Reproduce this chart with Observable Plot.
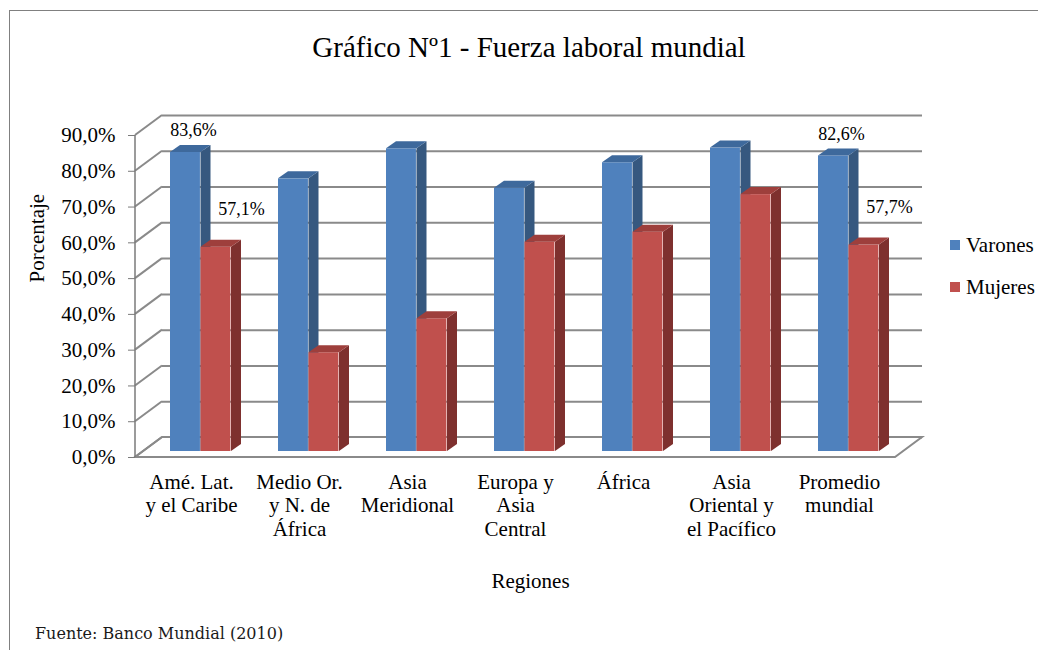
<!DOCTYPE html>
<html>
<head>
<meta charset="utf-8">
<script src="https://cdn.jsdelivr.net/npm/d3@7"></script>
<script src="https://cdn.jsdelivr.net/npm/@observablehq/plot@0.6"></script>
<style>
  body { margin: 0; background: #fff; }
  #page { position: relative; width: 1038px; height: 650px; overflow: hidden;
          font-family: "Liberation Serif", "Times New Roman", serif; color: #000; }
  #marco { position: absolute; left: 9px; top: 10px; width: 1200px; height: 800px;
           border-left: 1px solid #808080; border-top: 1px solid #808080; }
  #titulo { position: absolute; top: 29px; left: 20px; width: 1018px; text-align: center;
            font-size: 29px; line-height: 36px; }
  #chart { position: absolute; top: 95px; left: 0; }
  #leyenda { position: absolute; left: 950px; top: 232px; font-size: 21px; }
  #leyenda .item { display: flex; align-items: center; height: 26px; margin-bottom: 16px; }
  #leyenda .sw { width: 10px; height: 10px; margin-right: 6px; }
  #fuente { position: absolute; left: 35px; top: 624px; font-family: "DejaVu Serif", serif;
            font-size: 16px; color: #1a1a1a; }
</style>
</head>
<body>
<div id="page">
  <div id="marco"></div>
  <div id="titulo"></div>
  <div id="chart"></div>
  <div id="leyenda"></div>
  <div id="fuente"></div>
</div>
<script>
// ---- Data ----
const titulo = "Gráfico Nº1 - Fuerza laboral mundial";
const fuente = "Fuente: Banco Mundial (2010)";
const regiones = [
  "Amé. Lat.\ny el Caribe",
  "Medio Or.\ny N. de\nÁfrica",
  "Asia\nMeridional",
  "Europa y\nAsia\nCentral",
  "África",
  "Asia\nOriental y\nel Pacífico",
  "Promedio\nmundial"
];
const varones = [83.6, 76.2, 84.6, 73.6, 80.7, 84.8, 82.6];
const mujeres = [57.1, 27.6, 37.1, 58.5, 61.3, 71.8, 57.7];
const series = ["Varones", "Mujeres"];
const ticksY = [0, 10, 20, 30, 40, 50, 60, 70, 80, 90];
const regionesConEtiqueta = ["Amé. Lat.\ny el Caribe", "Promedio\nmundial"];
const tituloX = "Regiones";
const tituloY = "Porcentaje";

// ---- Styles ----
const colores = {
  Varones: {frente: "#4F81BD", lado: "#36587F", arriba: "#3E699C"},
  Mujeres: {frente: "#C0504D", lado: "#7E302E", arriba: "#9E3F3C"}
};
const W = 1038, H = 510;
const mL = 135, mR = 143, mT = 40, mB = 148;
const banda = (W - mL - mR) / regiones.length;
const PARED = {dx: 27, dy: -20};   // depth of the 3D box
const PLANO = {dx: 8, dy: -6};     // front plane of the bars
const GROSOR = {dx: 10, dy: -7};   // bar depth
const anchoBarra = 30.5;
const inicioBarra = {Varones: 25, Mujeres: 25 + anchoBarra};
const gris = "#8a8a8a";

const fmt = v => v.toFixed(1).replace(".", ",") + "%";

document.getElementById("titulo").textContent = titulo;
document.getElementById("fuente").textContent = fuente;
const ley = document.getElementById("leyenda");
for (const s of series) {
  const it = document.createElement("div"); it.className = "item";
  const sw = document.createElement("div"); sw.className = "sw"; sw.style.background = colores[s].frente;
  const t = document.createElement("span"); t.textContent = s;
  it.append(sw, t); ley.append(it);
}

const idx = d3.range(regiones.length);

// 3D box: left wall diagonals, axis line and floor
function caja(index, scales, values, dims) {
  const {y} = scales;
  const x0 = dims.marginLeft, x1 = dims.width - dims.marginRight;
  const g = d3.create("svg:g").attr("fill", "none").attr("stroke", gris).attr("stroke-width", 2);
  const y0 = y(0);
  g.append("path").attr("fill", "#fff")
    .attr("d", `M${x0},${y0}L${x1},${y0}L${x1 + PARED.dx},${y0 + PARED.dy}L${x0 + PARED.dx},${y0 + PARED.dy}Z`);
  for (const t of ticksY) {
    g.append("line").attr("x1", x0).attr("y1", y(t)).attr("x2", x0 + PARED.dx).attr("y2", y(t) + PARED.dy);
  }
  g.append("line").attr("x1", x0).attr("x2", x0).attr("y1", y(0)).attr("y2", y(d3.max(ticksY)))
    .attr("stroke", "#7a7a7a").attr("stroke-width", 1.5);
  return g.node();
}

// side and top faces of the bars
function caras(serie, valores) {
  return function (index, scales, values, dims) {
    const {x, y} = scales;
    const g = d3.create("svg:g");
    for (const i of idx) {
      const xl = x(regiones[i]) + inicioBarra[serie] + PLANO.dx;
      const xr = xl + anchoBarra;
      const yt = y(valores[i]) + PLANO.dy;
      const yb = y(0) + PLANO.dy;
      g.append("path").attr("fill", colores[serie].lado)
        .attr("d", `M${xr},${yb}L${xr},${yt}L${xr + GROSOR.dx},${yt + GROSOR.dy}L${xr + GROSOR.dx},${yb + GROSOR.dy}Z`);
      g.append("path").attr("fill", colores[serie].arriba)
        .attr("d", `M${xl},${yt}L${xr},${yt}L${xr + GROSOR.dx},${yt + GROSOR.dy}L${xl + GROSOR.dx},${yt + GROSOR.dy}Z`);
    }
    return g.node();
  };
}

function frentes(serie, valores) {
  return Plot.barY(idx, {
    x: i => regiones[i], y: i => valores[i],
    fill: colores[serie].frente,
    insetLeft: inicioBarra[serie],
    insetRight: banda - inicioBarra[serie] - anchoBarra,
    dx: PLANO.dx, dy: PLANO.dy
  });
}

const etiq = idx.filter(i => regionesConEtiqueta.includes(regiones[i]));

const plot = Plot.plot({
  width: W, height: H,
  marginLeft: mL, marginRight: mR, marginTop: mT, marginBottom: mB,
  style: {fontFamily: "'Liberation Serif', 'Times New Roman', serif", fontSize: "21px", color: "#000", background: "transparent", overflow: "visible"},
  x: {domain: regiones, padding: 0, axis: null},
  y: {domain: [0, 90], axis: null},
  marks: [
    Plot.ruleY(ticksY, {dx: PARED.dx, dy: PARED.dy, stroke: gris, strokeWidth: 2}),
    caja,
    Plot.axisY({ticks: ticksY, tickFormat: fmt, tickSize: 7, tickPadding: 13, stroke: "#7a7a7a", fill: "#000", fontSize: 21, label: null}),
    Plot.axisX({tickSize: 0, tickPadding: 14, fontSize: 21, lineHeight: 1.14, fill: "#000", label: null}),
    frentes("Varones", varones),
    caras("Varones", varones),
    frentes("Mujeres", mujeres),
    caras("Mujeres", mujeres),
    Plot.text(etiq, {x: i => regiones[i], y: i => varones[i], text: i => fmt(varones[i]), dx: 2, dy: -28, fontSize: 18, fill: "#000"}),
    Plot.text(etiq, {x: i => regiones[i], y: i => mujeres[i], text: i => fmt(mujeres[i]), dx: 50, dy: -44, fontSize: 18, fill: "#000"}),
    Plot.text([tituloX], {frameAnchor: "bottom", dx: 15, dy: 130, fontSize: 21, fill: "#000"}),
    Plot.text([tituloY], {frameAnchor: "left", rotate: -90, dx: -98, dy: -14, fontSize: 21, fill: "#000"})
  ]
});
document.getElementById("chart").append(plot);
</script>
</body>
</html>
